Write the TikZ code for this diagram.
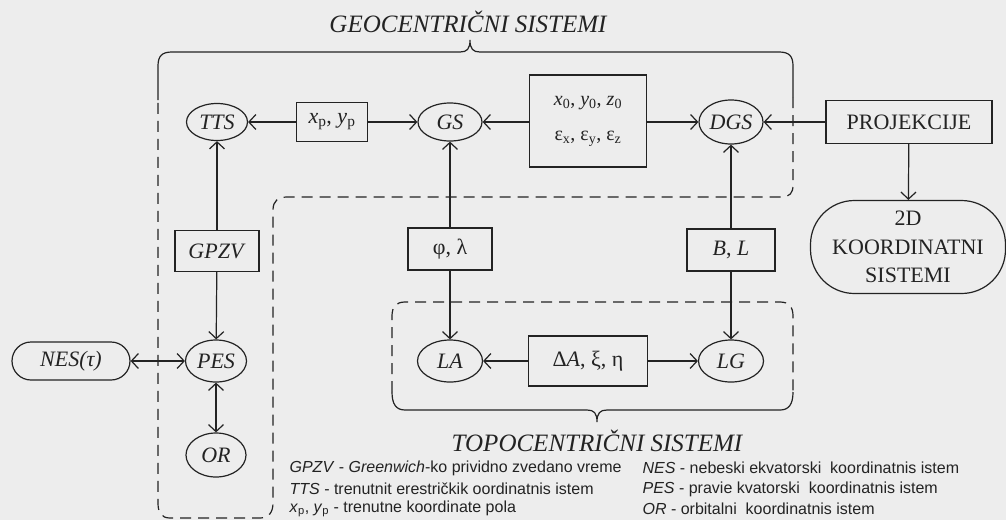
\documentclass[tikz,border=0pt]{standalone}
\usepackage{fontspec}
\setmainfont{Liberation Serif}
\newfontfamily\legfont{Liberation Sans}
\usetikzlibrary{arrows.meta,shapes.geometric}
\definecolor{bg}{RGB}{237,237,237}
\definecolor{ink}{RGB}{35,35,35}
\newcommand{\sbs}[1]{\textsubscript{#1}}
\begin{document}
\begin{tikzpicture}[x=1pt,y=-1pt,line width=1.2pt,
  every node/.style={text=ink},
  ell/.style={ellipse,draw=ink,inner sep=0pt,minimum width=63pt,minimum height=41pt,
    font=\fontsize{22}{24}\selectfont\itshape},
  bx/.style={rectangle,draw=ink,inner sep=0pt,font=\fontsize{22}{24}\selectfont},
  arr/.style={draw=ink,-{Straight Barb[length=7pt,width=15pt,line width=1.2pt]}},
  dbl/.style={draw=ink,{Straight Barb[length=7pt,width=15pt,line width=1.2pt]}-{Straight Barb[length=7pt,width=15pt,line width=1.2pt]}},
  dsh/.style={draw=ink,dash pattern=on 11pt off 7pt},
  solid line/.style={draw=ink},
  title/.style={font=\fontsize{25}{27}\selectfont\itshape},
  leg/.style={anchor=west,inner sep=0pt,font=\legfont\fontsize{16}{18}\selectfont}
]
\useasboundingbox (0,0) rectangle (1006,520);
\fill[bg] (0,0) rectangle (1006,520);

% titles
\node[title] (GT) at (468,22) {GEOCENTRIČNI SISTEMI};
\node[title] (TT) at (597,441) {TOPOCENTRIČNI SISTEMI};

% geocentric region
\draw[solid line] (158,100) -- (158,66) .. controls (158,56) and (162,52) .. (172,52)
  -- (460,52) .. controls (467,52) and (470,49) .. (470,40)
  .. controls (470,49) and (473,52) .. (480,52)
  -- (779,52) .. controls (789,52) and (793,56) .. (793,66) -- (793,97);
\draw[dsh] (793,97) -- (793,185) .. controls (793,193) and (790,197) .. (781,197)
  -- (287,197) .. controls (278,197) and (273,201) .. (273,210)
  -- (273,503) .. controls (273,512) and (269,518) .. (260,518)
  -- (170,518) .. controls (161,518) and (158,512) .. (158,503) -- (158,100);

% topocentric region
\draw[dsh] (392,392) -- (392,316) .. controls (392,307) and (396,302) .. (405,302)
  -- (780,302) .. controls (789,302) and (793,307) .. (793,316) -- (793,392);
\draw[solid line] (392,392) .. controls (392,404) and (396,410) .. (405,410)
  -- (587,410) .. controls (594,410) and (597,413) .. (597,422)
  .. controls (597,413) and (600,410) .. (607,410)
  -- (780,410) .. controls (789,410) and (793,404) .. (793,392);

% nodes
\node[ell,minimum width=61pt,minimum height=37pt] (TTS) at (217,122) {TTS};
\node[bx,minimum width=71pt,minimum height=39pt] (XP) at (332,122) {\textit{x}\sbs{p}, \textit{y}\sbs{p}};
\node[ell,minimum width=64pt,minimum height=38pt] (GS) at (450,122) {GS};
\node[bx,minimum width=117pt,minimum height=92pt,align=center,font=\fontsize{20}{35}\selectfont] (X0) at (588,121)
  {\textit{x}\sbs{0}, \textit{y}\sbs{0}, \textit{z}\sbs{0}\\ε\sbs{x}, ε\sbs{y}, ε\sbs{z}};
\node[ell,minimum width=64pt,minimum height=44pt] (DGS) at (731,122) {DGS};
\node[bx,minimum width=166pt,minimum height=43pt] (PR) at (909,122) {PROJEKCIJE};
\node[bx,rounded corners=44pt,minimum width=195pt,minimum height=93pt,align=center,
  font=\fontsize{22}{28.5}\selectfont] (KS) at (908,247) {2D\\KOORDINATNI\\SISTEMI};

\node[bx,minimum width=84pt,minimum height=41pt] (GPZV) at (217,251) {\textit{GPZV}};
\node[bx,minimum width=84pt,minimum height=42pt] (PL) at (450,249) {φ, λ};
\node[bx,minimum width=88pt,minimum height=42pt] (BL) at (731,250) {\textit{B}, \textit{L}};

\node[ell,minimum width=65pt,minimum height=42pt] (LA) at (450,361) {LA};
\node[bx,minimum width=119pt,minimum height=50pt] (DA) at (588,361) {Δ\textit{A}, ξ, η};
\node[ell,minimum width=65pt,minimum height=42pt] (LG) at (731,361) {LG};
\node[ell,minimum width=61pt,minimum height=42pt] (PES) at (216,361) {PES};
\node[ell,minimum width=60pt,minimum height=44pt] (OR) at (216,455) {OR};
\node[bx,rounded corners=19pt,minimum width=118pt,minimum height=38pt,font=\fontsize{22}{24}\selectfont\itshape] (NES) at (71,361) {NES(τ)};

% connectors
\draw[arr] (XP) -- (TTS);
\draw[arr] (XP) -- (GS);
\draw[arr] (X0.west |- GS) -- (GS);
\draw[arr] (X0.east |- DGS) -- (DGS);
\draw[arr] (PR) -- (DGS);
\draw[arr] (PR) -- (KS);
\draw[arr] (GPZV) -- (TTS);
\draw[arr] (GPZV) -- (PES);
\draw[arr] (PL) -- (GS);
\draw[arr] (PL) -- (LA);
\draw[arr] (BL) -- (DGS);
\draw[arr] (BL) -- (LG);
\draw[arr] (DA) -- (LA);
\draw[arr] (DA) -- (LG);
\draw[dbl] (NES) -- (PES);
\draw[dbl] (PES) -- (OR);

% legend
\node[leg] (L1) at (289,468) {\textit{GPZV} - \textit{Greenwich}-ko prividno zvedano vreme};
\node[leg] (L2) at (289,489) {\textit{TTS} - trenutnit erestričkik oordinatnis istem};
\node[leg] (L3) at (289,509) {\textit{x}\sbs{p}, \textit{y}\sbs{p} - trenutne koordinate pola};
\node[leg] (R1) at (642,468) {\textit{NES} - nebeski ekvatorski \ koordinatnis istem};
\node[leg] (R2) at (642,489) {\textit{PES} - pravie kvatorski \ koordinatnis istem};
\node[leg] (R3) at (642,509) {\textit{OR} - orbitalni \ koordinatnis istem};
\end{tikzpicture}
\end{document}
